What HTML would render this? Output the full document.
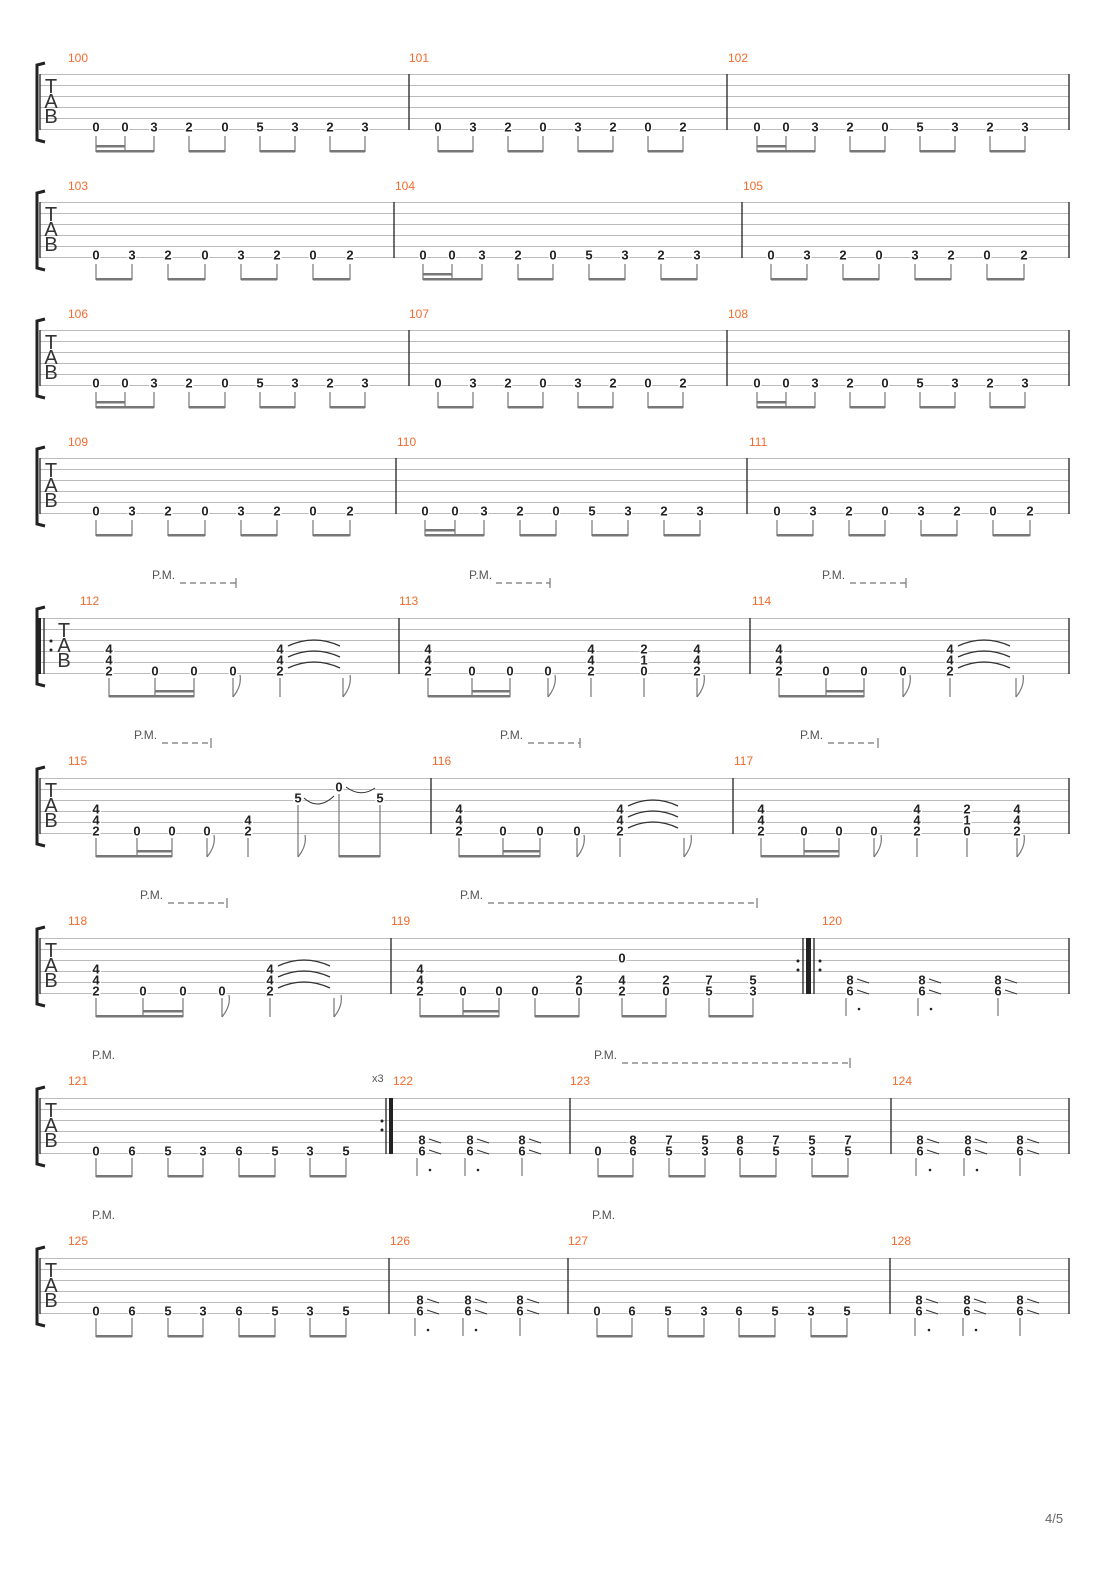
<!DOCTYPE html>
<html><head><meta charset="utf-8"><style>
body{margin:0;background:#fff}
svg{display:block}
.n{font:bold 13px "Liberation Sans",sans-serif;text-anchor:middle;dominant-baseline:central;fill:#222;paint-order:stroke;stroke:#fff;stroke-width:3px;stroke-linejoin:round}
.m{font:12px "Liberation Sans",sans-serif;fill:#f26b2d}
.t{font:20px "Liberation Sans",sans-serif;fill:#333;text-anchor:middle;dominant-baseline:central}
.p{font:12px "Liberation Sans",sans-serif;fill:#555}
.st{stroke:#bbb;stroke-width:1;fill:none}
.s{stroke:#777;stroke-width:1.2;fill:none}
.b{fill:#777}
.bl{stroke:#222;stroke-width:1.3}
.br{stroke:#222;stroke-width:3;fill:none}
.tie{stroke:#333;stroke-width:1.3;fill:none}
.sl{stroke:#333;stroke-width:1;fill:none}
.d{stroke:#777;stroke-width:1.3;stroke-dasharray:6 4;fill:none}
</style></head><body>
<svg width="1110" height="1570" xmlns="http://www.w3.org/2000/svg">
<defs>
<path id="lines" class="st" d="M40 0.5H1069M40 11.5H1069M40 22.5H1069M40 33.5H1069M40 44.5H1069M40 55.5H1069"/>
<path id="brk" class="br" d="M45 -11L37 -9V66L45 68"/>
</defs>

<!-- ROW 1 -->
<g transform="translate(0,74)">
<use href="#lines"/><use href="#brk"/>
<path class="bl" d="M40 0V56M409 0V56M727 0V56M1069 0V56"/>
<text class="t" x="51" y="13">T</text><text class="t" x="51" y="28">A</text><text class="t" x="51" y="43">B</text>
<text class="m" x="68" y="-12">100</text><text class="m" x="409" y="-12">101</text><text class="m" x="728" y="-12">102</text>
<text class="n" x="96" y="53">0</text><text class="n" x="125" y="53">0</text><text class="n" x="154" y="53">3</text><text class="n" x="189" y="53">2</text><text class="n" x="225" y="53">0</text><text class="n" x="260" y="53">5</text><text class="n" x="295" y="53">3</text><text class="n" x="330" y="53">2</text><text class="n" x="365" y="53">3</text>
<text class="n" x="438" y="53">0</text><text class="n" x="473" y="53">3</text><text class="n" x="508" y="53">2</text><text class="n" x="543" y="53">0</text><text class="n" x="578" y="53">3</text><text class="n" x="613" y="53">2</text><text class="n" x="648" y="53">0</text><text class="n" x="683" y="53">2</text>
<text class="n" x="757" y="53">0</text><text class="n" x="786" y="53">0</text><text class="n" x="815" y="53">3</text><text class="n" x="850" y="53">2</text><text class="n" x="885" y="53">0</text><text class="n" x="920" y="53">5</text><text class="n" x="955" y="53">3</text><text class="n" x="990" y="53">2</text><text class="n" x="1025" y="53">3</text>
<path class="s" d="M96 62V78M125 62V78M154 62V78M189 62V78M225 62V78M260 62V78M295 62V78M330 62V78M365 62V78M438 62V78M473 62V78M508 62V78M543 62V78M578 62V78M613 62V78M648 62V78M683 62V78M757 62V78M786 62V78M815 62V78M850 62V78M885 62V78M920 62V78M955 62V78M990 62V78M1025 62V78"/>
<rect class="b" x="96" y="76" width="58" height="2.5"/><rect class="b" x="96" y="71" width="29" height="2.5"/><rect class="b" x="189" y="76" width="36" height="2.5"/><rect class="b" x="260" y="76" width="35" height="2.5"/><rect class="b" x="330" y="76" width="35" height="2.5"/>
<rect class="b" x="438" y="76" width="35" height="2.5"/><rect class="b" x="508" y="76" width="35" height="2.5"/><rect class="b" x="578" y="76" width="35" height="2.5"/><rect class="b" x="648" y="76" width="35" height="2.5"/>
<rect class="b" x="757" y="76" width="58" height="2.5"/><rect class="b" x="757" y="71" width="29" height="2.5"/><rect class="b" x="850" y="76" width="35" height="2.5"/><rect class="b" x="920" y="76" width="35" height="2.5"/><rect class="b" x="990" y="76" width="35" height="2.5"/>
</g>

<!-- ROW 2 -->
<g transform="translate(0,202)">
<use href="#lines"/><use href="#brk"/>
<path class="bl" d="M40 0V56M394 0V56M742 0V56M1069 0V56"/>
<text class="t" x="51" y="13">T</text><text class="t" x="51" y="28">A</text><text class="t" x="51" y="43">B</text>
<text class="m" x="68" y="-12">103</text><text class="m" x="395" y="-12">104</text><text class="m" x="743" y="-12">105</text>
<text class="n" x="96" y="53">0</text><text class="n" x="132" y="53">3</text><text class="n" x="168" y="53">2</text><text class="n" x="205" y="53">0</text><text class="n" x="241" y="53">3</text><text class="n" x="277" y="53">2</text><text class="n" x="313" y="53">0</text><text class="n" x="350" y="53">2</text>
<text class="n" x="423" y="53">0</text><text class="n" x="452" y="53">0</text><text class="n" x="482" y="53">3</text><text class="n" x="518" y="53">2</text><text class="n" x="553" y="53">0</text><text class="n" x="589" y="53">5</text><text class="n" x="625" y="53">3</text><text class="n" x="661" y="53">2</text><text class="n" x="697" y="53">3</text>
<text class="n" x="771" y="53">0</text><text class="n" x="807" y="53">3</text><text class="n" x="843" y="53">2</text><text class="n" x="879" y="53">0</text><text class="n" x="915" y="53">3</text><text class="n" x="951" y="53">2</text><text class="n" x="987" y="53">0</text><text class="n" x="1024" y="53">2</text>
<path class="s" d="M96 62V78M132 62V78M168 62V78M205 62V78M241 62V78M277 62V78M313 62V78M350 62V78M423 62V78M452 62V78M482 62V78M518 62V78M553 62V78M589 62V78M625 62V78M661 62V78M697 62V78M771 62V78M807 62V78M843 62V78M879 62V78M915 62V78M951 62V78M987 62V78M1024 62V78"/>
<rect class="b" x="96" y="76" width="36" height="2.5"/><rect class="b" x="168" y="76" width="37" height="2.5"/><rect class="b" x="241" y="76" width="36" height="2.5"/><rect class="b" x="313" y="76" width="37" height="2.5"/>
<rect class="b" x="423" y="76" width="59" height="2.5"/><rect class="b" x="423" y="71" width="29" height="2.5"/><rect class="b" x="518" y="76" width="35" height="2.5"/><rect class="b" x="589" y="76" width="36" height="2.5"/><rect class="b" x="661" y="76" width="36" height="2.5"/>
<rect class="b" x="771" y="76" width="36" height="2.5"/><rect class="b" x="843" y="76" width="36" height="2.5"/><rect class="b" x="915" y="76" width="36" height="2.5"/><rect class="b" x="987" y="76" width="37" height="2.5"/>
</g>

<!-- ROW 3 -->
<g transform="translate(0,330)">
<use href="#lines"/><use href="#brk"/>
<path class="bl" d="M40 0V56M409 0V56M727 0V56M1069 0V56"/>
<text class="t" x="51" y="13">T</text><text class="t" x="51" y="28">A</text><text class="t" x="51" y="43">B</text>
<text class="m" x="68" y="-12">106</text><text class="m" x="409" y="-12">107</text><text class="m" x="728" y="-12">108</text>
<text class="n" x="96" y="53">0</text><text class="n" x="125" y="53">0</text><text class="n" x="154" y="53">3</text><text class="n" x="189" y="53">2</text><text class="n" x="225" y="53">0</text><text class="n" x="260" y="53">5</text><text class="n" x="295" y="53">3</text><text class="n" x="330" y="53">2</text><text class="n" x="365" y="53">3</text>
<text class="n" x="438" y="53">0</text><text class="n" x="473" y="53">3</text><text class="n" x="508" y="53">2</text><text class="n" x="543" y="53">0</text><text class="n" x="578" y="53">3</text><text class="n" x="613" y="53">2</text><text class="n" x="648" y="53">0</text><text class="n" x="683" y="53">2</text>
<text class="n" x="757" y="53">0</text><text class="n" x="786" y="53">0</text><text class="n" x="815" y="53">3</text><text class="n" x="850" y="53">2</text><text class="n" x="885" y="53">0</text><text class="n" x="920" y="53">5</text><text class="n" x="955" y="53">3</text><text class="n" x="990" y="53">2</text><text class="n" x="1025" y="53">3</text>
<path class="s" d="M96 62V78M125 62V78M154 62V78M189 62V78M225 62V78M260 62V78M295 62V78M330 62V78M365 62V78M438 62V78M473 62V78M508 62V78M543 62V78M578 62V78M613 62V78M648 62V78M683 62V78M757 62V78M786 62V78M815 62V78M850 62V78M885 62V78M920 62V78M955 62V78M990 62V78M1025 62V78"/>
<rect class="b" x="96" y="76" width="58" height="2.5"/><rect class="b" x="96" y="71" width="29" height="2.5"/><rect class="b" x="189" y="76" width="36" height="2.5"/><rect class="b" x="260" y="76" width="35" height="2.5"/><rect class="b" x="330" y="76" width="35" height="2.5"/>
<rect class="b" x="438" y="76" width="35" height="2.5"/><rect class="b" x="508" y="76" width="35" height="2.5"/><rect class="b" x="578" y="76" width="35" height="2.5"/><rect class="b" x="648" y="76" width="35" height="2.5"/>
<rect class="b" x="757" y="76" width="58" height="2.5"/><rect class="b" x="757" y="71" width="29" height="2.5"/><rect class="b" x="850" y="76" width="35" height="2.5"/><rect class="b" x="920" y="76" width="35" height="2.5"/><rect class="b" x="990" y="76" width="35" height="2.5"/>
</g>

<!-- ROW 4 -->
<g transform="translate(0,458)">
<use href="#lines"/><use href="#brk"/>
<path class="bl" d="M40 0V56M396 0V56M747 0V56M1069 0V56"/>
<text class="t" x="51" y="13">T</text><text class="t" x="51" y="28">A</text><text class="t" x="51" y="43">B</text>
<text class="m" x="68" y="-12">109</text><text class="m" x="397" y="-12">110</text><text class="m" x="749" y="-12">111</text>
<text class="n" x="96" y="53">0</text><text class="n" x="132" y="53">3</text><text class="n" x="168" y="53">2</text><text class="n" x="205" y="53">0</text><text class="n" x="241" y="53">3</text><text class="n" x="277" y="53">2</text><text class="n" x="313" y="53">0</text><text class="n" x="350" y="53">2</text>
<text class="n" x="425" y="53">0</text><text class="n" x="455" y="53">0</text><text class="n" x="484" y="53">3</text><text class="n" x="520" y="53">2</text><text class="n" x="556" y="53">0</text><text class="n" x="592" y="53">5</text><text class="n" x="628" y="53">3</text><text class="n" x="664" y="53">2</text><text class="n" x="700" y="53">3</text>
<text class="n" x="777" y="53">0</text><text class="n" x="813" y="53">3</text><text class="n" x="849" y="53">2</text><text class="n" x="885" y="53">0</text><text class="n" x="921" y="53">3</text><text class="n" x="957" y="53">2</text><text class="n" x="993" y="53">0</text><text class="n" x="1030" y="53">2</text>
<path class="s" d="M96 62V78M132 62V78M168 62V78M205 62V78M241 62V78M277 62V78M313 62V78M350 62V78M425 62V78M455 62V78M484 62V78M520 62V78M556 62V78M592 62V78M628 62V78M664 62V78M700 62V78M777 62V78M813 62V78M849 62V78M885 62V78M921 62V78M957 62V78M993 62V78M1030 62V78"/>
<rect class="b" x="96" y="76" width="36" height="2.5"/><rect class="b" x="168" y="76" width="37" height="2.5"/><rect class="b" x="241" y="76" width="36" height="2.5"/><rect class="b" x="313" y="76" width="37" height="2.5"/>
<rect class="b" x="425" y="76" width="59" height="2.5"/><rect class="b" x="425" y="71" width="30" height="2.5"/><rect class="b" x="520" y="76" width="36" height="2.5"/><rect class="b" x="592" y="76" width="36" height="2.5"/><rect class="b" x="664" y="76" width="36" height="2.5"/>
<rect class="b" x="777" y="76" width="36" height="2.5"/><rect class="b" x="849" y="76" width="36" height="2.5"/><rect class="b" x="921" y="76" width="36" height="2.5"/><rect class="b" x="993" y="76" width="37" height="2.5"/>
</g>

<!-- ROW 5 -->
<g transform="translate(0,618)">
<use href="#lines"/><use href="#brk"/>
<rect x="37" y="0" width="4" height="56" fill="#222"/><path class="bl" d="M44 0V56M399 0V56M750 0V56M1069 0V56"/>
<circle cx="51" cy="23" r="1.5" fill="#222"/><circle cx="51" cy="32" r="1.5" fill="#222"/>
<text class="t" x="64" y="13">T</text><text class="t" x="64" y="28">A</text><text class="t" x="64" y="43">B</text>
<text class="m" x="80" y="-13">112</text><text class="m" x="399" y="-13">113</text><text class="m" x="752" y="-13">114</text>
<text class="p" x="152" y="-39">P.M.</text><path class="d" d="M180 -35H236"/><path class="s" d="M236 -40V-30"/>
<text class="p" x="469" y="-39">P.M.</text><path class="d" d="M496 -35H550"/><path class="s" d="M550 -40V-30"/>
<text class="p" x="822" y="-39">P.M.</text><path class="d" d="M850 -35H906"/><path class="s" d="M906 -40V-30"/>
<text class="n" x="109" y="31">4</text><text class="n" x="109" y="42">4</text><text class="n" x="109" y="53">2</text>
<text class="n" x="155" y="53">0</text><text class="n" x="194" y="53">0</text><text class="n" x="233" y="53">0</text>
<text class="n" x="280" y="31">4</text><text class="n" x="280" y="42">4</text><text class="n" x="280" y="53">2</text>
<path class="tie" d="M288 28Q314 16 340 28M288 39Q314 27 340 39M288 50Q314 38 340 50"/>
<text class="n" x="428" y="31">4</text><text class="n" x="428" y="42">4</text><text class="n" x="428" y="53">2</text>
<text class="n" x="472" y="53">0</text><text class="n" x="510" y="53">0</text><text class="n" x="548" y="53">0</text>
<text class="n" x="591" y="31">4</text><text class="n" x="591" y="42">4</text><text class="n" x="591" y="53">2</text>
<text class="n" x="644" y="31">2</text><text class="n" x="644" y="42">1</text><text class="n" x="644" y="53">0</text>
<text class="n" x="697" y="31">4</text><text class="n" x="697" y="42">4</text><text class="n" x="697" y="53">2</text>
<text class="n" x="779" y="31">4</text><text class="n" x="779" y="42">4</text><text class="n" x="779" y="53">2</text>
<text class="n" x="826" y="53">0</text><text class="n" x="864" y="53">0</text><text class="n" x="903" y="53">0</text>
<text class="n" x="950" y="31">4</text><text class="n" x="950" y="42">4</text><text class="n" x="950" y="53">2</text>
<path class="tie" d="M958 28Q984 16 1010 28M958 39Q984 27 1010 39M958 50Q984 38 1010 50"/>
<path class="s" d="M109 60V79M155 60V79M194 60V79M233 60V79M280 60V79M343 60V79M428 60V79M472 60V79M510 60V79M548 60V79M591 60V79M644 60V79M697 60V79M779 60V79M826 60V79M864 60V79M903 60V79M950 60V79M1016 60V79"/>
<path class="s" stroke-width="2" d="M233 79Q242 68 240 57M343 79Q352 68 350 57M548 79Q557 68 555 57M697 79Q706 68 704 57M903 79Q912 68 910 57M1016 79Q1025 68 1023 57"/>
<rect class="b" x="109" y="77" width="85" height="2.5"/><rect class="b" x="155" y="72" width="39" height="2.5"/>
<rect class="b" x="428" y="77" width="82" height="2.5"/><rect class="b" x="472" y="72" width="38" height="2.5"/>
<rect class="b" x="779" y="77" width="85" height="2.5"/><rect class="b" x="826" y="72" width="38" height="2.5"/>
</g>

<!-- ROW 6 -->
<g transform="translate(0,778)">
<use href="#lines"/><use href="#brk"/>
<path class="bl" d="M40 0V56M431 0V56M733 0V56M1069 0V56"/>
<text class="t" x="51" y="13">T</text><text class="t" x="51" y="28">A</text><text class="t" x="51" y="43">B</text>
<text class="m" x="68" y="-13">115</text><text class="m" x="432" y="-13">116</text><text class="m" x="734" y="-13">117</text>
<text class="p" x="134" y="-39">P.M.</text><path class="d" d="M162 -35H211"/><path class="s" d="M211 -40V-30"/>
<text class="p" x="500" y="-39">P.M.</text><path class="d" d="M528 -35H580"/><path class="s" d="M580 -40V-30"/>
<text class="p" x="800" y="-39">P.M.</text><path class="d" d="M828 -35H878"/><path class="s" d="M878 -40V-30"/>
<text class="n" x="96" y="31">4</text><text class="n" x="96" y="42">4</text><text class="n" x="96" y="53">2</text>
<text class="n" x="137" y="53">0</text><text class="n" x="172" y="53">0</text><text class="n" x="207" y="53">0</text>
<text class="n" x="248" y="42">4</text><text class="n" x="248" y="53">2</text>
<text class="n" x="298" y="20">5</text><text class="n" x="339" y="9">0</text><text class="n" x="380" y="20">5</text>
<path class="sl" d="M304 20Q318 33 334 18M346 9Q361 20 375 10"/>
<text class="n" x="459" y="31">4</text><text class="n" x="459" y="42">4</text><text class="n" x="459" y="53">2</text>
<text class="n" x="503" y="53">0</text><text class="n" x="540" y="53">0</text><text class="n" x="577" y="53">0</text>
<text class="n" x="620" y="31">4</text><text class="n" x="620" y="42">4</text><text class="n" x="620" y="53">2</text>
<path class="tie" d="M628 28Q653 16 678 28M628 39Q653 27 678 39M628 50Q653 38 678 50"/>
<text class="n" x="761" y="31">4</text><text class="n" x="761" y="42">4</text><text class="n" x="761" y="53">2</text>
<text class="n" x="804" y="53">0</text><text class="n" x="839" y="53">0</text><text class="n" x="874" y="53">0</text>
<text class="n" x="917" y="31">4</text><text class="n" x="917" y="42">4</text><text class="n" x="917" y="53">2</text>
<text class="n" x="967" y="31">2</text><text class="n" x="967" y="42">1</text><text class="n" x="967" y="53">0</text>
<text class="n" x="1017" y="31">4</text><text class="n" x="1017" y="42">4</text><text class="n" x="1017" y="53">2</text>
<path class="s" d="M96 60V79M137 60V79M172 60V79M207 60V79M248 60V79M298 27V79M339 16V79M380 27V79M459 60V79M503 60V79M540 60V79M577 60V79M620 60V79M684 60V79M761 60V79M804 60V79M839 60V79M874 60V79M917 60V79M967 60V79M1017 60V79"/>
<path class="s" stroke-width="2" d="M207 79Q216 68 214 57M298 79Q307 68 305 57M577 79Q586 68 584 57M684 79Q693 68 691 57M874 79Q883 68 881 57M1017 79Q1026 68 1024 57"/>
<rect class="b" x="96" y="77" width="76" height="2.5"/><rect class="b" x="137" y="72" width="35" height="2.5"/>
<rect class="b" x="339" y="77" width="41" height="2.5"/>
<rect class="b" x="459" y="77" width="81" height="2.5"/><rect class="b" x="503" y="72" width="37" height="2.5"/>
<rect class="b" x="761" y="77" width="78" height="2.5"/><rect class="b" x="804" y="72" width="35" height="2.5"/>
</g>

<!-- ROW 7 -->
<g transform="translate(0,938)">
<use href="#lines"/><use href="#brk"/>
<path class="bl" d="M40 0V56M391 0V56M803 0V56M814 0V56M1069 0V56"/>
<rect x="806" y="0" width="5" height="56" fill="#222"/>
<circle cx="798" cy="23" r="1.5" fill="#222"/><circle cx="798" cy="32" r="1.5" fill="#222"/><circle cx="820" cy="23" r="1.5" fill="#222"/><circle cx="820" cy="32" r="1.5" fill="#222"/>
<text class="t" x="51" y="13">T</text><text class="t" x="51" y="28">A</text><text class="t" x="51" y="43">B</text>
<text class="m" x="68" y="-13">118</text><text class="m" x="391" y="-13">119</text><text class="m" x="822" y="-13">120</text>
<text class="p" x="140" y="-39">P.M.</text><path class="d" d="M168 -35H227"/><path class="s" d="M227 -40V-30"/>
<text class="p" x="460" y="-39">P.M.</text><path class="d" d="M488 -35H757"/><path class="s" d="M757 -40V-30"/>
<text class="n" x="96" y="31">4</text><text class="n" x="96" y="42">4</text><text class="n" x="96" y="53">2</text>
<text class="n" x="143" y="53">0</text><text class="n" x="183" y="53">0</text><text class="n" x="222" y="53">0</text>
<text class="n" x="270" y="31">4</text><text class="n" x="270" y="42">4</text><text class="n" x="270" y="53">2</text>
<path class="tie" d="M278 28Q304 16 330 28M278 39Q304 27 330 39M278 50Q304 38 330 50"/>
<text class="n" x="420" y="31">4</text><text class="n" x="420" y="42">4</text><text class="n" x="420" y="53">2</text>
<text class="n" x="463" y="53">0</text><text class="n" x="499" y="53">0</text><text class="n" x="535" y="53">0</text>
<text class="n" x="579" y="42">2</text><text class="n" x="579" y="53">0</text>
<text class="n" x="622" y="20">0</text><text class="n" x="622" y="42">4</text><text class="n" x="622" y="53">2</text>
<text class="n" x="666" y="42">2</text><text class="n" x="666" y="53">0</text>
<text class="n" x="709" y="42">7</text><text class="n" x="709" y="53">5</text>
<text class="n" x="753" y="42">5</text><text class="n" x="753" y="53">3</text>
<text class="n" x="850" y="42">8</text><text class="n" x="850" y="53">6</text>
<text class="n" x="922" y="42">8</text><text class="n" x="922" y="53">6</text>
<text class="n" x="998" y="42">8</text><text class="n" x="998" y="53">6</text>
<path class="sl" d="M857 41L869 45M857 52L869 56M929 41L941 45M929 52L941 56M1005 41L1017 45M1005 52L1017 56"/>
<path class="s" d="M96 60V79M143 60V79M183 60V79M222 60V79M270 60V79M334 60V79M420 60V79M463 60V79M499 60V79M535 60V79M579 60V79M622 60V79M666 60V79M709 60V79M753 60V79M846 60V78M918 60V78M998 60V78"/>
<path class="s" stroke-width="2" d="M222 79Q231 68 229 57M334 79Q343 68 341 57"/>
<circle cx="859" cy="71" r="1.3" fill="#222"/><circle cx="931" cy="71" r="1.3" fill="#222"/>
<rect class="b" x="96" y="77" width="87" height="2.5"/><rect class="b" x="143" y="72" width="40" height="2.5"/>
<rect class="b" x="420" y="77" width="79" height="2.5"/><rect class="b" x="463" y="72" width="36" height="2.5"/>
<rect class="b" x="535" y="77" width="44" height="2.5"/><rect class="b" x="622" y="77" width="44" height="2.5"/><rect class="b" x="709" y="77" width="44" height="2.5"/>
</g>

<!-- ROW 8 -->
<g transform="translate(0,1098)">
<use href="#lines"/><use href="#brk"/>
<path class="bl" d="M40 0V56M386 0V56M570 0V56M891 0V56M1069 0V56"/>
<rect x="389" y="0" width="4" height="56" fill="#222"/>
<circle cx="382" cy="23" r="1.5" fill="#222"/><circle cx="382" cy="32" r="1.5" fill="#222"/>
<text class="t" x="51" y="13">T</text><text class="t" x="51" y="28">A</text><text class="t" x="51" y="43">B</text>
<text class="m" x="68" y="-13">121</text><text class="m" x="393" y="-13">122</text><text class="m" x="570" y="-13">123</text><text class="m" x="892" y="-13">124</text>
<text class="p" x="372" y="-16" style="font-size:11px">x3</text>
<text class="p" x="92" y="-39">P.M.</text>
<text class="p" x="594" y="-39">P.M.</text><path class="d" d="M622 -35H850"/><path class="s" d="M850 -40V-30"/>
<text class="n" x="96" y="53">0</text><text class="n" x="132" y="53">6</text><text class="n" x="168" y="53">5</text><text class="n" x="203" y="53">3</text><text class="n" x="239" y="53">6</text><text class="n" x="275" y="53">5</text><text class="n" x="310" y="53">3</text><text class="n" x="346" y="53">5</text>
<text class="n" x="422" y="42">8</text><text class="n" x="422" y="53">6</text><text class="n" x="470" y="42">8</text><text class="n" x="470" y="53">6</text><text class="n" x="522" y="42">8</text><text class="n" x="522" y="53">6</text>
<text class="n" x="598" y="53">0</text>
<text class="n" x="633" y="42">8</text><text class="n" x="633" y="53">6</text><text class="n" x="669" y="42">7</text><text class="n" x="669" y="53">5</text><text class="n" x="705" y="42">5</text><text class="n" x="705" y="53">3</text>
<text class="n" x="740" y="42">8</text><text class="n" x="740" y="53">6</text><text class="n" x="776" y="42">7</text><text class="n" x="776" y="53">5</text><text class="n" x="812" y="42">5</text><text class="n" x="812" y="53">3</text><text class="n" x="848" y="42">7</text><text class="n" x="848" y="53">5</text>
<text class="n" x="920" y="42">8</text><text class="n" x="920" y="53">6</text><text class="n" x="968" y="42">8</text><text class="n" x="968" y="53">6</text><text class="n" x="1020" y="42">8</text><text class="n" x="1020" y="53">6</text>
<path class="sl" d="M429 41L441 45M429 52L441 56M477 41L489 45M477 52L489 56M529 41L541 45M529 52L541 56M927 41L939 45M927 52L939 56M975 41L987 45M975 52L987 56M1027 41L1039 45M1027 52L1039 56"/>
<path class="s" d="M96 60V79M132 60V79M168 60V79M203 60V79M239 60V79M275 60V79M310 60V79M346 60V79M417 60V78M465 60V78M522 60V78M598 60V79M633 60V79M669 60V79M705 60V79M740 60V79M776 60V79M812 60V79M848 60V79M916 60V78M964 60V78M1020 60V78"/>
<circle cx="430" cy="72" r="1.3" fill="#222"/><circle cx="478" cy="72" r="1.3" fill="#222"/><circle cx="930" cy="72" r="1.3" fill="#222"/><circle cx="977" cy="72" r="1.3" fill="#222"/>
<rect class="b" x="96" y="77" width="36" height="2.5"/><rect class="b" x="168" y="77" width="35" height="2.5"/><rect class="b" x="239" y="77" width="36" height="2.5"/><rect class="b" x="310" y="77" width="36" height="2.5"/>
<rect class="b" x="598" y="77" width="35" height="2.5"/><rect class="b" x="669" y="77" width="36" height="2.5"/><rect class="b" x="740" y="77" width="36" height="2.5"/><rect class="b" x="812" y="77" width="36" height="2.5"/>
</g>

<!-- ROW 9 -->
<g transform="translate(0,1258)">
<use href="#lines"/><use href="#brk"/>
<path class="bl" d="M40 0V56M389 0V56M568 0V56M890 0V56M1069 0V56"/>
<text class="t" x="51" y="13">T</text><text class="t" x="51" y="28">A</text><text class="t" x="51" y="43">B</text>
<text class="m" x="68" y="-13">125</text><text class="m" x="390" y="-13">126</text><text class="m" x="568" y="-13">127</text><text class="m" x="891" y="-13">128</text>
<text class="p" x="92" y="-39">P.M.</text><text class="p" x="592" y="-39">P.M.</text>
<text class="n" x="96" y="53">0</text><text class="n" x="132" y="53">6</text><text class="n" x="168" y="53">5</text><text class="n" x="203" y="53">3</text><text class="n" x="239" y="53">6</text><text class="n" x="275" y="53">5</text><text class="n" x="310" y="53">3</text><text class="n" x="346" y="53">5</text>
<text class="n" x="420" y="42">8</text><text class="n" x="420" y="53">6</text><text class="n" x="468" y="42">8</text><text class="n" x="468" y="53">6</text><text class="n" x="520" y="42">8</text><text class="n" x="520" y="53">6</text>
<text class="n" x="597" y="53">0</text><text class="n" x="632" y="53">6</text><text class="n" x="668" y="53">5</text><text class="n" x="704" y="53">3</text><text class="n" x="739" y="53">6</text><text class="n" x="775" y="53">5</text><text class="n" x="811" y="53">3</text><text class="n" x="847" y="53">5</text>
<text class="n" x="919" y="42">8</text><text class="n" x="919" y="53">6</text><text class="n" x="967" y="42">8</text><text class="n" x="967" y="53">6</text><text class="n" x="1020" y="42">8</text><text class="n" x="1020" y="53">6</text>
<path class="sl" d="M427 41L439 45M427 52L439 56M475 41L487 45M475 52L487 56M527 41L539 45M527 52L539 56M926 41L938 45M926 52L938 56M974 41L986 45M974 52L986 56M1027 41L1039 45M1027 52L1039 56"/>
<path class="s" d="M96 60V79M132 60V79M168 60V79M203 60V79M239 60V79M275 60V79M310 60V79M346 60V79M415 60V78M463 60V78M520 60V78M597 60V79M632 60V79M668 60V79M704 60V79M739 60V79M775 60V79M811 60V79M847 60V79M915 60V78M963 60V78M1020 60V78"/>
<circle cx="428" cy="72" r="1.3" fill="#222"/><circle cx="476" cy="72" r="1.3" fill="#222"/><circle cx="929" cy="72" r="1.3" fill="#222"/><circle cx="976" cy="72" r="1.3" fill="#222"/>
<rect class="b" x="96" y="77" width="36" height="2.5"/><rect class="b" x="168" y="77" width="35" height="2.5"/><rect class="b" x="239" y="77" width="36" height="2.5"/><rect class="b" x="310" y="77" width="36" height="2.5"/>
<rect class="b" x="597" y="77" width="35" height="2.5"/><rect class="b" x="668" y="77" width="36" height="2.5"/><rect class="b" x="739" y="77" width="36" height="2.5"/><rect class="b" x="811" y="77" width="36" height="2.5"/>
</g>

<text x="1045" y="1523" style="font:13px 'Liberation Sans',sans-serif;fill:#666">4/5</text>
</svg>
</body></html>
